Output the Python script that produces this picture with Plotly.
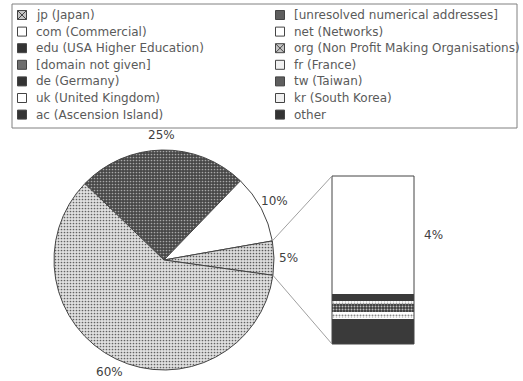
import math
import plotly.graph_objects as go

W, H = 523, 381

# ---- legend categories (two columns, top to bottom) ----
legend_left = ["jp (Japan)", "com (Commercial)", "edu (USA Higher Education)",
               "[domain not given]", "de (Germany)", "uk (United Kingdom)",
               "ac (Ascension Island)"]
legend_right = ["[unresolved numerical addresses]", "net (Networks)",
                "org (Non Profit Making Organisations)", "fr (France)",
                "tw (Taiwan)", "kr (South Korea)", "other"]
legend_left_fill = ["#c4c4c4", "#ffffff", "#333333", "#6e6e6e", "#333333", "#ffffff", "#333333"]
legend_right_fill = ["#5e5e5e", "#ffffff", "#c4c4c4", "#f0f0f0", "#5e5e5e", "#f0f0f0", "#333333"]
legend_left_sym = ["square-x", "square", "square", "square", "square", "square", "square"]
legend_right_sym = ["square", "square", "square-x", "square", "square", "square", "square"]

# ---- pie slices (clockwise from upper left) ----
pie_labels = ["[unresolved numerical addresses]", "com (Commercial)", "other domains", "jp (Japan)"]
pie_values = [25, 10, 5, 60]
pie_bg = ["#474747", "#ffffff", "#dcdcdc", "#e0e0e0"]
pie_fg = ["#a8a8a8", "#ffffff", "#5a5a5a", "#626262"]
pie_shape = [".", "", ".", "."]
pie_rotation = -46

# ---- breakdown of the small slice (bottom to top) ----
bar_labels = ["other", "kr (South Korea)", "fr (France)", "net (Networks)",
              "tw (Taiwan)", "uk (United Kingdom)", "ac (Ascension Island)", "de (Germany)"]
bar_values = [0.85, 0.04, 0.14, 0.07, 0.27, 0.10, 0.24, 4]
bar_bg = ["#3a3a3a", "#ffffff", "#ffffff", "#ffffff", "#3a3a3a", "#ffffff", "#3a3a3a", "#ffffff"]
bar_fg = ["#3a3a3a", "#ffffff", "#8a8a8a", "#ffffff", "#bbbbbb", "#9a9a9a", "#3a3a3a", "#ffffff"]
bar_shape = ["", "", ".", "", ".", ".", "", ""]
bar_label_index = 7

# ---- geometry (pixels) ----
cx, cy, r = 164, 260, 110
bar_x0, bar_x1, bar_y0, bar_y1 = 332, 414, 176, 344
legend_box = (12, 4, 517, 128)
row0, row_step = 15, 16.6
col_x = [22, 280]
text_gap = 12

FONT = "DejaVu Sans"
TXT = "#5a5a5a"
PCT = "#404040"


def px(x):
    return x / W


def py(y):
    return (H - y) / H


fig = go.Figure()

# pie
fig.add_trace(go.Pie(
    labels=pie_labels, values=pie_values, sort=False, direction="clockwise",
    rotation=pie_rotation, textinfo="none", hoverinfo="label+percent",
    showlegend=False,
    domain=dict(x=[px(cx - r), px(cx + r)], y=[py(cy + r), py(cy - r)]),
    marker=dict(colors=pie_bg, line=dict(color="#444444", width=1),
                pattern=dict(shape=pie_shape, fgcolor=pie_fg, bgcolor=pie_bg,
                             size=3, solidity=0.25, fillmode="replace")),
))

# stacked breakdown bar
for lab, v, bg, fg, sh in zip(bar_labels, bar_values, bar_bg, bar_fg, bar_shape):
    fig.add_trace(go.Bar(
        x=[0], y=[v], name=lab, xaxis="x2", yaxis="y2", showlegend=False,
        marker=dict(color=bg, line=dict(width=0),
                    pattern=dict(shape=sh, fgcolor=fg, bgcolor=bg, size=3,
                                 solidity=0.35, fillmode="replace")),
    ))

bar_total = sum(bar_values)

# legend symbols and texts
sym_x, sym_y, sym_fill, sym_sym = [], [], [], []
annotations = []
for col, (labels, fills, syms) in enumerate([(legend_left, legend_left_fill, legend_left_sym),
                                              (legend_right, legend_right_fill, legend_right_sym)]):
    for i, (lab, f, s) in enumerate(zip(labels, fills, syms)):
        y = row0 + i * row_step
        sym_x.append(col_x[col])
        sym_y.append(y)
        sym_fill.append(f)
        sym_sym.append(s)
        annotations.append(dict(
            x=px(col_x[col] + text_gap), y=py(y), xref="paper", yref="paper",
            text=lab, showarrow=False, xanchor="left", yanchor="middle",
            font=dict(family=FONT, size=12, color=TXT)))

fig.add_trace(go.Scatter(
    x=sym_x, y=sym_y, mode="markers", xaxis="x3", yaxis="y3", showlegend=False,
    hoverinfo="skip",
    marker=dict(symbol=sym_sym, size=9, color=sym_fill,
                line=dict(color="#444444", width=1)),
))

# percentage labels around the pie
total = sum(pie_values)
acc = 0
angles = []
for v in pie_values:
    start = pie_rotation + acc / total * 360
    acc += v
    end = pie_rotation + acc / total * 360
    angles.append((start, end))
    mid = math.radians((start + end) / 2)
    lr = r + 15
    lx = cx + lr * math.sin(mid)
    ly = cy - lr * math.cos(mid)
    annotations.append(dict(
        x=px(lx), y=py(ly), xref="paper", yref="paper", text=f"{v}%",
        showarrow=False, xanchor="center", yanchor="middle",
        font=dict(family=FONT, size=12, color=PCT)))

# label for the large segment of the breakdown bar
seg_base = sum(bar_values[:bar_label_index])
seg_val = bar_values[bar_label_index]
annotations.append(dict(
    x=px(bar_x1 + 19), y=seg_base + seg_val / 2, xref="paper", yref="y2",
    text=f"{seg_val:g}%", showarrow=False, xanchor="center", yanchor="middle",
    font=dict(family=FONT, size=12, color=PCT)))

shapes = []
# legend frame
lx0, ly0, lx1, ly1 = legend_box
shapes.append(dict(type="rect", xref="paper", yref="paper",
                   x0=px(lx0), x1=px(lx1), y0=py(ly1), y1=py(ly0),
                   line=dict(color="#808080", width=1)))
# bar frame
shapes.append(dict(type="rect", xref="paper", yref="paper",
                   x0=px(bar_x0), x1=px(bar_x1), y0=py(bar_y1), y1=py(bar_y0),
                   line=dict(color="#444444", width=1)))
# connectors from the small slice to the bar
small = pie_labels.index("other domains")
a0, a1 = angles[small]
for ang, by in [(a0, bar_y0), (a1, bar_y1)]:
    t = math.radians(ang)
    ex = cx + r * math.sin(t)
    ey = cy - r * math.cos(t)
    shapes.append(dict(type="line", xref="paper", yref="paper",
                       x0=px(ex), y0=py(ey), x1=px(bar_x0), y1=py(by),
                       line=dict(color="#a0a0a0", width=1)))

fig.update_layout(
    width=W, height=H, margin=dict(l=0, r=0, t=0, b=0),
    paper_bgcolor="white", plot_bgcolor="rgba(0,0,0,0)",
    barmode="stack", bargap=0,
    xaxis2=dict(domain=[px(bar_x0), px(bar_x1)], range=[-0.5, 0.5], visible=False,
                fixedrange=True, anchor="y2"),
    yaxis2=dict(domain=[py(bar_y1), py(bar_y0)], range=[0, bar_total], visible=False,
                fixedrange=True, anchor="x2"),
    xaxis3=dict(domain=[0, 1], range=[0, W], visible=False, fixedrange=True, anchor="y3"),
    yaxis3=dict(domain=[0, 1], range=[H, 0], visible=False, fixedrange=True, anchor="x3"),
    xaxis=dict(visible=False), yaxis=dict(visible=False),
    annotations=annotations, shapes=shapes,
)

fig.write_html("out.html")
